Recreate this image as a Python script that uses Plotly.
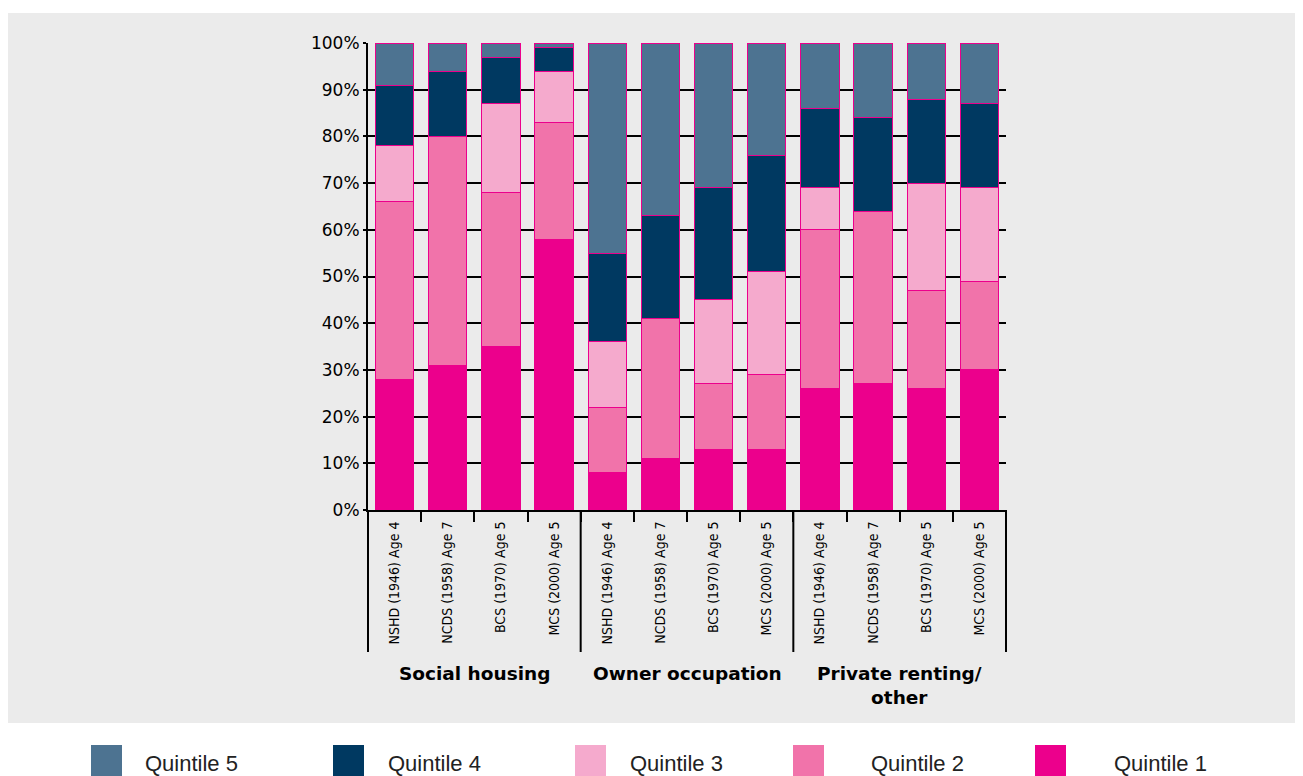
import plotly.graph_objects as go

# ---------------- data ----------------
cohorts = ["NSHD (1946) Age 4", "NCDS (1958) Age 7", "BCS (1970) Age 5", "MCS (2000) Age 5"]
groups = ["Social housing", "Owner occupation", "Private renting/<br>other"]
tick_labels = cohorts * 3

quintile_names = ["Quintile 1", "Quintile 2", "Quintile 3", "Quintile 4", "Quintile 5"]
q1 = [28, 31, 35, 58, 8, 11, 13, 13, 26, 27, 26, 30]
q2 = [38, 49, 33, 25, 14, 30, 14, 16, 34, 37, 21, 19]
q3 = [12, 0, 19, 11, 14, 0, 18, 22, 9, 0, 23, 20]
q4 = [13, 14, 10, 5, 19, 22, 24, 25, 17, 20, 18, 18]
q5 = [9, 6, 3, 1, 45, 37, 31, 24, 14, 16, 12, 13]
y_ticks = [0, 10, 20, 30, 40, 50, 60, 70, 80, 90, 100]
y_tick_text = [f"{v}%" for v in y_ticks]

colors = {
    "Quintile 1": "#ec008c",
    "Quintile 2": "#f173aa",
    "Quintile 3": "#f5aacd",
    "Quintile 4": "#003961",
    "Quintile 5": "#4d7391",
}
series = [q1, q2, q3, q4, q5]

# ---------------- geometry ----------------
# page body has an 8px margin, so figure pixel = screen pixel - 8
OFF = 8
W, H = 1303 - 2 * OFF, 776 - OFF
L, R, T, B = 368 - OFF, 1006 - OFF, 43 - OFF, 510 - OFF  # plot area (figure px)
PW, PH = R - L, B - T


def px(xs):
    return (xs - OFF - L) / PW


def py(ys):
    return (B - (ys - OFF)) / PH


GREY = "#ebebeb"
FONT = "DejaVu Sans, Verdana, sans-serif"
FONT_COND = "DejaVu Sans Condensed, DejaVu Sans, sans-serif"

fig = go.Figure()
xpos = list(range(len(tick_labels)))
for name, vals in zip(quintile_names, series):
    fig.add_trace(go.Bar(
        x=xpos, y=vals, name=name,
        marker=dict(color=colors[name], line=dict(color="#ec008c", width=1)),
        showlegend=False,
    ))

shapes = []
# grey panel background
shapes.append(dict(type="rect", xref="paper", yref="paper",
                   x0=px(8), x1=px(1295), y0=py(723), y1=py(13),
                   fillcolor=GREY, line=dict(width=0), layer="below"))
# group separator lines
for k in range(4):
    xp = k / 3
    shapes.append(dict(type="line", xref="paper", yref="paper",
                       x0=xp, x1=xp, y0=0, y1=py(652),
                       line=dict(color="black", width=2)))

annotations = []
for k, g in enumerate(groups):
    annotations.append(dict(
        text="<b>" + g + "</b>", xref="paper", yref="paper",
        x=(k + 0.5) / 3, y=py(661), xanchor="center", yanchor="top",
        showarrow=False, align="center",
        font=dict(family=FONT, size=18.5, color="black"),
    ))

# legend (custom, large squares)
leg_order = ["Quintile 5", "Quintile 4", "Quintile 3", "Quintile 2", "Quintile 1"]
sq_x = [91, 333, 575, 793, 1035]
txt_x = [143, 386, 628, 869, 1112]
for name, sx, tx in zip(leg_order, sq_x, txt_x):
    shapes.append(dict(type="rect", xref="paper", yref="paper",
                       x0=px(sx), x1=px(sx + 31), y0=py(776), y1=py(745),
                       fillcolor=colors[name], line=dict(width=0)))
    annotations.append(dict(
        text=name, xref="paper", yref="paper", x=px(tx), y=py(763),
        xanchor="left", yanchor="middle", showarrow=False,
        font=dict(family="Liberation Sans, Arial, sans-serif", size=22, color="#222222"),
    ))

fig.update_layout(
    width=W, height=H,
    margin=dict(l=L, r=W - R, t=T, b=H - B, pad=0),
    paper_bgcolor="white",
    plot_bgcolor=GREY,
    barmode="stack",
    bargap=0.28,
    shapes=shapes,
    annotations=annotations,
    font=dict(family=FONT, color="black"),
    xaxis=dict(
        range=[-0.5, 11.5],
        tickmode="array", tickvals=xpos, ticktext=tick_labels,
        tickangle=-90,
        ticks="outside", ticklen=4, tickcolor="rgba(0,0,0,0)",
        tickfont=dict(family=FONT_COND, size=14, color="black"),
        showgrid=False, zeroline=False,
        showline=True, linecolor="black", linewidth=2,
        minor=dict(tickmode="array", tickvals=[i - 0.5 for i in range(13)],
                   ticks="outside", ticklen=10, tickwidth=2, tickcolor="black",
                   showgrid=False),
    ),
    yaxis=dict(
        range=[0, 100],
        tickmode="array", tickvals=y_ticks, ticktext=y_tick_text,
        tickfont=dict(family=FONT, size=17, color="black"),
        ticks="outside", ticklen=3, tickwidth=2, tickcolor="black",
        showgrid=True, gridcolor="black", gridwidth=2,
        zeroline=False,
        showline=True, linecolor="black", linewidth=2,
    ),
)

fig.write_html("out.html")
